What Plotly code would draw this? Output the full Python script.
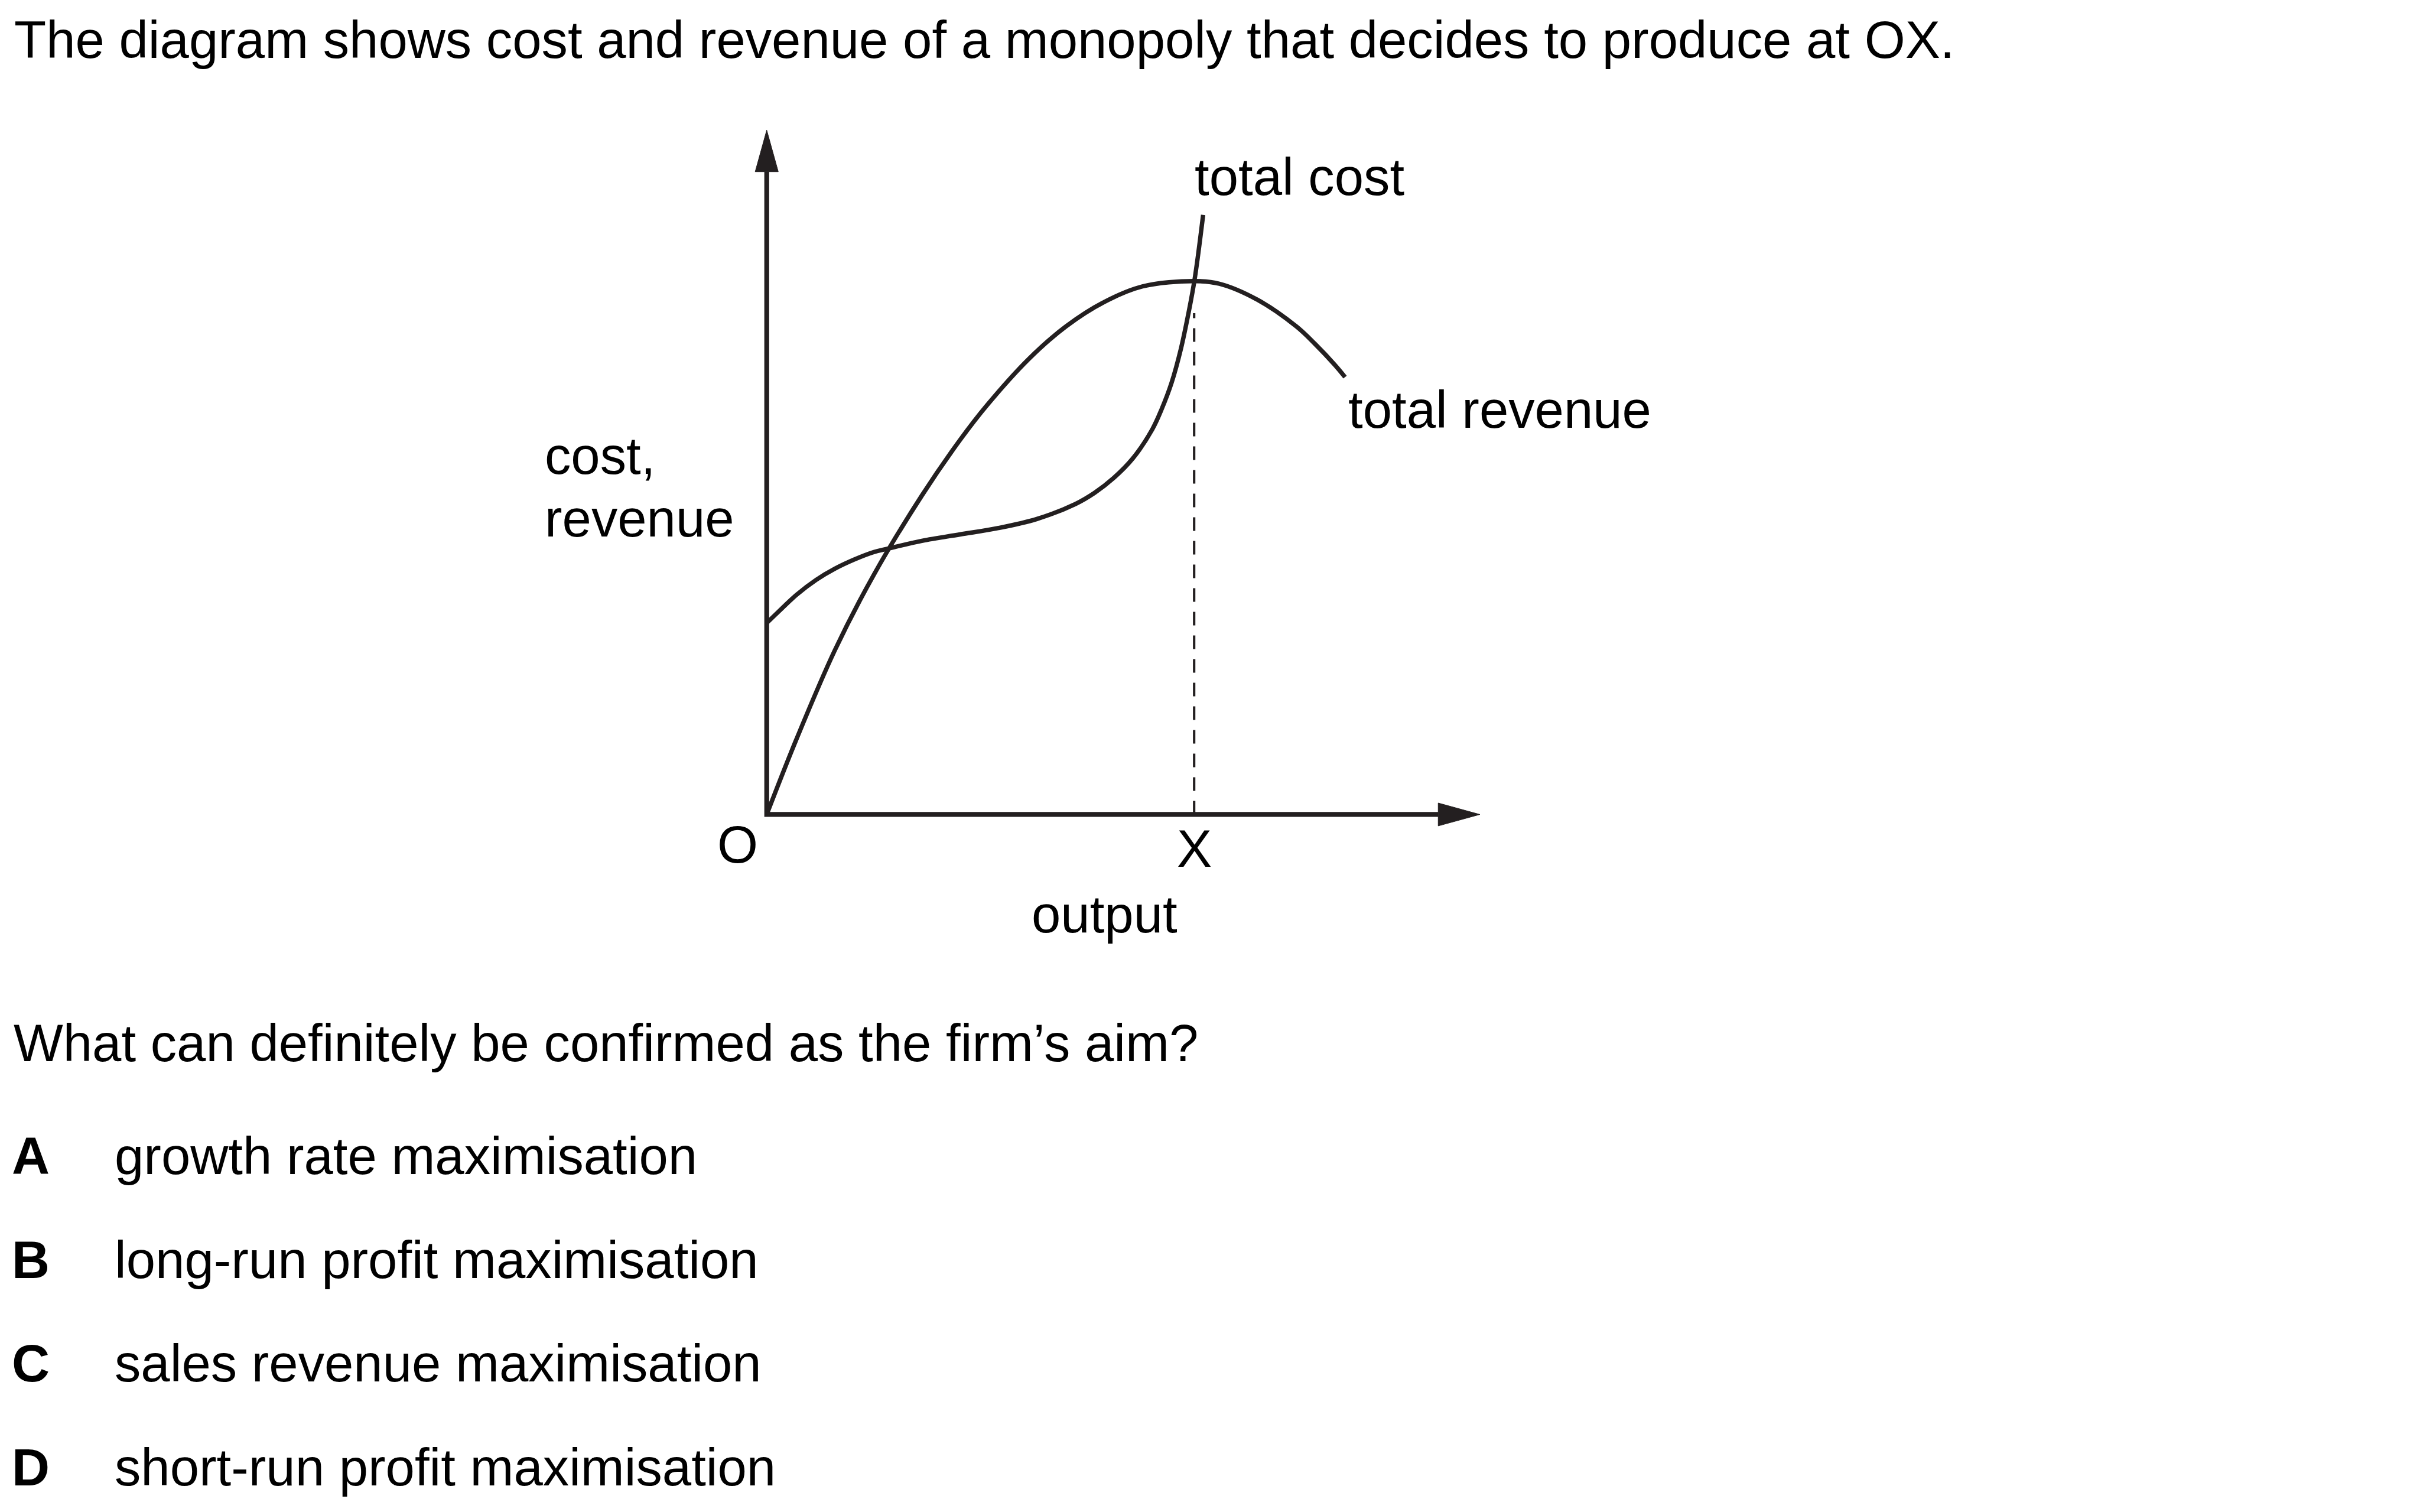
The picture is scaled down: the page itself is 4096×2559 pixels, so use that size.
import plotly.graph_objects as go

# ---------------- data ----------------
# total revenue curve: output (units, X = 10) vs revenue (units, max TR = 10)
tr_output = [0.0, 0.70, 1.60, 2.51, 3.63, 4.53, 5.15, 6.13, 7.00, 7.90, 8.79, 10.0,
             10.59, 11.48, 12.39, 12.83, 13.29, 13.53]
tr_value = [0.0, 1.42, 3.09, 4.50, 5.98, 7.03, 7.67, 8.54, 9.15, 9.61, 9.90, 10.0,
            9.95, 9.65, 9.15, 8.82, 8.43, 8.20]

# total cost curve
tc_output = [0.0, 0.26, 0.70, 1.16, 1.60, 2.05, 2.51, 2.82, 3.63, 4.52, 5.42, 6.32,
             7.22, 7.67, 8.12, 8.57, 9.02, 9.24, 9.47, 9.69, 9.87, 10.0, 10.09, 10.21]
tc_value = [3.59, 3.79, 4.12, 4.40, 4.61, 4.78, 4.92, 4.98, 5.13, 5.25, 5.37, 5.54,
            5.82, 6.03, 6.31, 6.68, 7.22, 7.60, 8.09, 8.73, 9.41, 9.98, 10.48, 11.24]

X_OUTPUT = 10.0          # chosen output OX
DASH_TOP = 9.4           # top of the dashed guide

title_text = "The diagram shows cost and revenue of a monopoly that decides to produce at OX."
question_text = "What can definitely be confirmed as the firm\u2019s aim?"
option_letters = ["A", "B", "C", "D"]
option_texts = ["growth rate maximisation", "long-run profit maximisation",
                "sales revenue maximisation", "short-run profit maximisation"]

# ---------------- geometry (reference pixel space 4201 x 2625) ----------------
W_REF, H_REF = 4201, 2625
S = 0.975
W, H = 4096, 2559
ORIGIN_X, ORIGIN_Y = 1331, 1414      # px of the origin
PX_PER_X, PX_PER_Y = 74.2, 92.6      # px per data unit
Y_ARROW_TIP, Y_ARROW_BASE = 12.83, 12.05
X_ARROW_TIP, X_ARROW_BASE = 16.685, 15.71
ARROW_HALF_X = 0.27                  # half width of y-arrow in x units
ARROW_HALF_Y = 0.215                 # half height of x-arrow in y units

INK = "#231f20"
FS = 91 * S
FONT = "Liberation Sans, Arial, Helvetica, sans-serif"

x_range = [-ORIGIN_X / PX_PER_X, (W_REF - ORIGIN_X) / PX_PER_X]
y_range = [-(H_REF - ORIGIN_Y) / PX_PER_Y, ORIGIN_Y / PX_PER_Y]

fig = go.Figure()

# dashed guide at X
fig.add_trace(go.Scatter(x=[X_OUTPUT, X_OUTPUT], y=[0, DASH_TOP], mode="lines",
                         line=dict(color=INK, width=4.2 * S, dash="23px,17px"),
                         hoverinfo="skip"))
# curves
fig.add_trace(go.Scatter(x=tr_output, y=tr_value, mode="lines", name="total revenue",
                         line=dict(color=INK, width=7.6 * S, shape="spline", smoothing=1.0)))
fig.add_trace(go.Scatter(x=tc_output, y=tc_value, mode="lines", name="total cost",
                         line=dict(color=INK, width=7.6 * S, shape="spline", smoothing=1.0)))

shapes = [
    dict(type="path", xref="x", yref="y",
         path=f"M 0,{Y_ARROW_BASE} L 0,0 L {X_ARROW_BASE},0",
         line=dict(color=INK, width=8.4 * S)),
    dict(type="path", xref="x", yref="y",
         path=f"M {-ARROW_HALF_X},{Y_ARROW_BASE} L 0,{Y_ARROW_TIP} L {ARROW_HALF_X},{Y_ARROW_BASE} Z",
         fillcolor=INK, line=dict(color=INK, width=1)),
    dict(type="path", xref="x", yref="y",
         path=f"M {X_ARROW_BASE},{-ARROW_HALF_Y} L {X_ARROW_TIP},0 L {X_ARROW_BASE},{ARROW_HALF_Y} Z",
         fillcolor=INK, line=dict(color=INK, width=1)),
]


def label(text, x_px, base_px, xanchor="left"):
    cy = base_px - 0.3465 * 91
    return dict(text=text, x=x_px / W_REF, y=1 - cy / H_REF, xref="paper", yref="paper",
                xanchor=xanchor, yanchor="middle", showarrow=False, borderpad=0,
                borderwidth=0, font=dict(family=FONT, size=FS, color="#000000"))


anns = [
    label(title_text, 25, 101),
    label("total cost", 2074, 339),
    label("total revenue", 2340, 743),
    label("cost,", 946, 823),
    label("revenue", 946, 932),
    label("O", 1281, 1498, "center"),
    label("output", 1917, 1619, "center"),
    label(question_text, 24, 1843),
]
x_lab = label("X", 0, 1505, "center")
x_lab.update(x=X_OUTPUT, xref="x")
anns.append(x_lab)

opt_base = [2039, 2219, 2399, 2579]
for letter, txt, b in zip(option_letters, option_texts, opt_base):
    anns.append(label(f"<b>{letter}</b>", 21, b))
    anns.append(label(txt, 199, b))

fig.update_layout(
    width=W, height=H, margin=dict(l=0, r=0, t=0, b=0),
    paper_bgcolor="white", plot_bgcolor="white", showlegend=False,
    xaxis=dict(range=x_range, visible=False, fixedrange=True),
    yaxis=dict(range=y_range, visible=False, fixedrange=True),
    shapes=shapes, annotations=anns,
)

fig.write_html("out.html", config={"displayModeBar": False, "staticPlot": True},
               post_script="document.body.style.margin='0';document.body.style.overflow='hidden';")
